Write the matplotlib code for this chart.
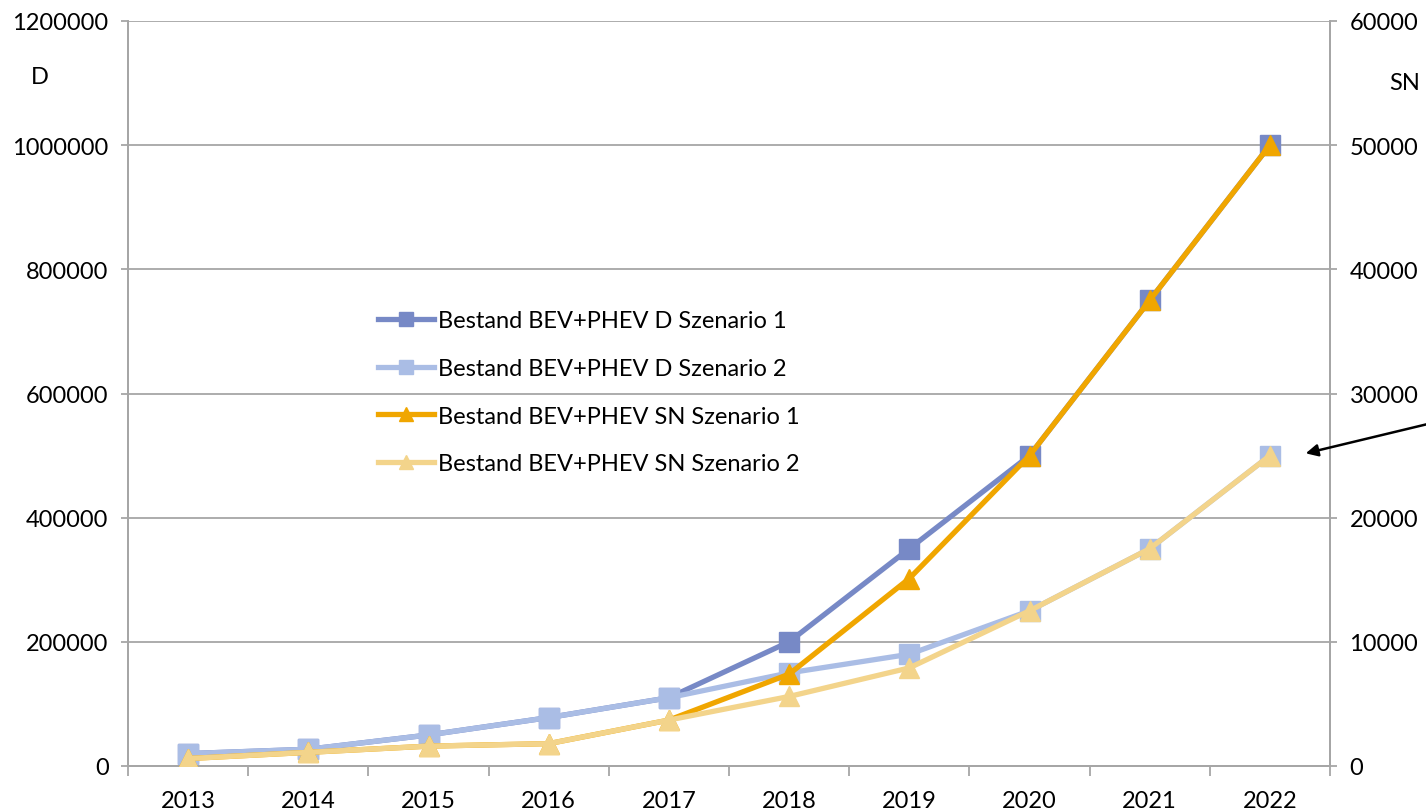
import matplotlib
matplotlib.use("Agg")
import matplotlib.pyplot as plt
from matplotlib.ticker import FixedLocator

years = ["2013", "2014", "2015", "2016", "2017", "2018", "2019", "2020", "2021", "2022"]
d_s1 = [20000, 27000, 50000, 78000, 110000, 200000, 350000, 500000, 750000, 1000000]
d_s2 = [20000, 27000, 50000, 78000, 110000, 150000, 180000, 250000, 350000, 500000]
sn_s1 = [600, 1100, 1600, 1800, 3700, 7400, 15100, 25000, 37500, 50000]
sn_s2 = [600, 1100, 1600, 1800, 3700, 5600, 7900, 12500, 17500, 25000]
labels = ["Bestand BEV+PHEV D Szenario 1", "Bestand BEV+PHEV D Szenario 2",
          "Bestand BEV+PHEV SN Szenario 1", "Bestand BEV+PHEV SN Szenario 2"]
left_ticks = [0, 200000, 400000, 600000, 800000, 1000000, 1200000]
right_ticks = [0, 10000, 20000, 30000, 40000, 50000, 60000]

plt.rcParams['font.family'] = ['Lato', 'DejaVu Sans']
FS = 17

c_d1 = "#7789c6"
c_d2 = "#aabde5"
c_s1 = "#f0a600"
c_s2 = "#f3d48b"
gridc = "#a6a6a6"

fig = plt.figure(figsize=(14.26, 8.12), dpi=100)
ax = fig.add_axes([128/1426, 1-767/812, (1330-128)/1426, (767-22)/812])
ax2 = ax.twinx()

x = list(range(len(years)))
lw = 3.8
ms = 14
h1, = ax.plot(x, d_s1, color=c_d1, lw=lw, marker='s', ms=ms, zorder=3)
h2, = ax.plot(x, d_s2, color=c_d2, lw=lw, marker='s', ms=ms, zorder=4)
h3, = ax2.plot(x, sn_s1, color=c_s1, lw=lw, marker='^', ms=ms, zorder=3)
h4, = ax2.plot(x, sn_s2, color=c_s2, lw=lw, marker='^', ms=ms, zorder=4)

ax.set_xlim(-0.5, len(years) - 0.5)
ax.set_ylim(0, 1200000)
ax2.set_ylim(0, 60000)
ax.set_yticks(left_ticks)
ax.set_yticklabels([str(v) for v in left_ticks], fontsize=FS)
ax2.set_yticks(right_ticks)
ax2.set_yticklabels([str(v) for v in right_ticks], fontsize=FS)

ax.set_xticks(x)
ax.set_xticklabels(years, fontsize=FS)
ax.xaxis.set_minor_locator(FixedLocator([i - 0.5 for i in range(len(years) + 1)]))
ax.tick_params(axis='x', which='major', length=0, pad=17)
ax.tick_params(axis='x', which='minor', length=7, width=1.3, color=gridc)
ax.tick_params(axis='y', length=5, width=1.3, color=gridc, pad=9)
ax2.tick_params(axis='y', length=5, width=1.3, color=gridc, pad=9)

ax.grid(axis='y', color=gridc, lw=1.3)
ax.set_axisbelow(True)
for a in (ax, ax2):
    a.spines['top'].set_visible(False)
    for s in ('left', 'right', 'bottom'):
        a.spines[s].set_color(gridc)
        a.spines[s].set_linewidth(1.3)

fig.text(40/1426, 1-77/812, "D", fontsize=FS, ha='center', va='center')
fig.text(1405/1426, 1-83/812, "SN", fontsize=FS, ha='center', va='center')

leg = ax2.legend([h1, h2, h3, h4], labels, loc='upper left',
                 bbox_to_anchor=(357/1426, 1-290/812), bbox_transform=fig.transFigure,
                 frameon=False, fontsize=FS, handlelength=2.35, handletextpad=0.2,
                 labelspacing=1.13, markerscale=0.75)

ax2.annotate("", xy=(1303/1426, 1-455/812), xycoords='figure fraction',
             xytext=(1432/1426, 1-424/812), textcoords='figure fraction',
             arrowprops=dict(arrowstyle='-|>', color='black', lw=1.8, mutation_scale=18),
             annotation_clip=False)

fig.savefig("out.png", dpi=100)
